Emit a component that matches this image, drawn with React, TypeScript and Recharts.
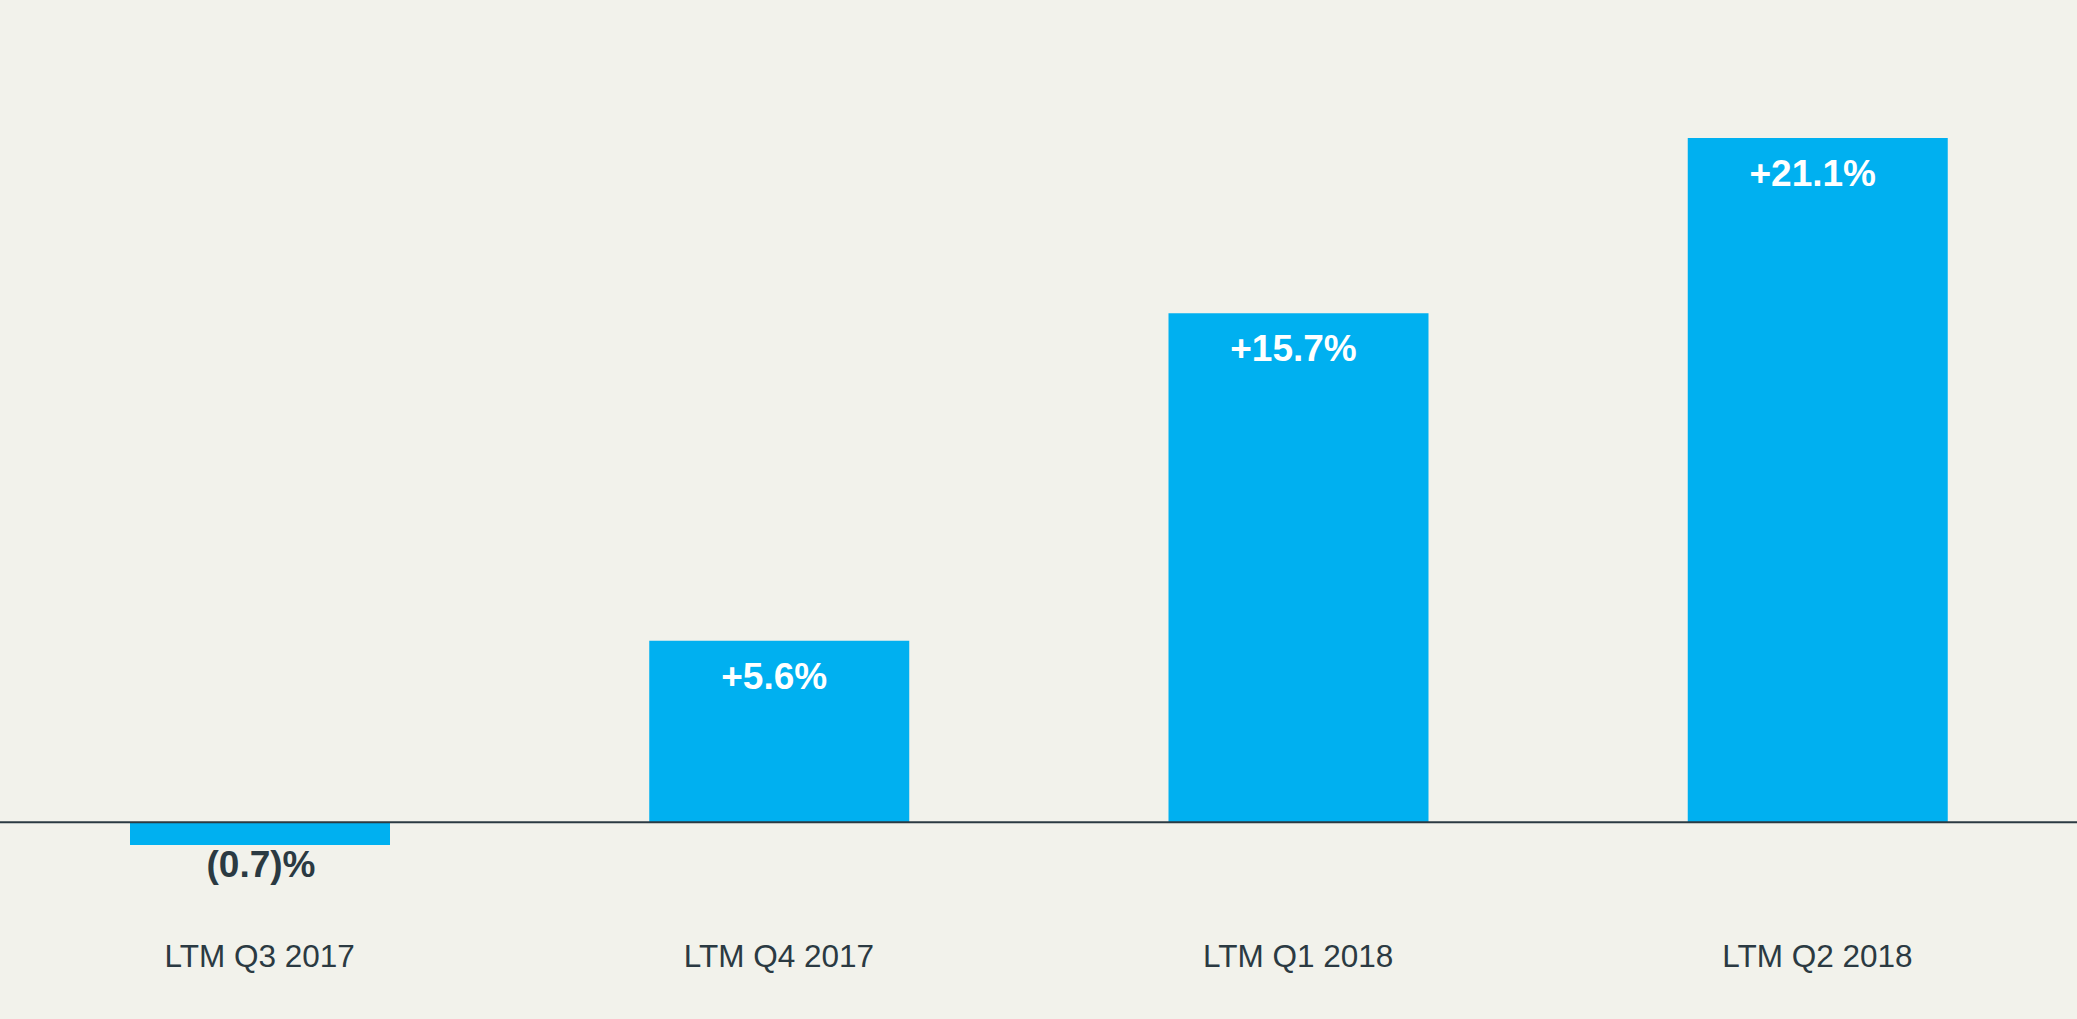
import React from "react";
import {
  BarChart,
  Bar,
  XAxis,
  YAxis,
  ReferenceLine,
  LabelList,
} from "recharts";

const categories = ["LTM Q3 2017", "LTM Q4 2017", "LTM Q1 2018", "LTM Q2 2018"];
const growthValues = [-0.7, 5.6, 15.7, 21.1];
const yDomain = [-4, 24];

const data = categories.map((period, i) => ({ period, growth: growthValues[i] }));

const BG = "#F2F2EB";
const BAR = "#00B0F0";
const DARK = "#2B3A42";
const FONT = "'Liberation Sans', Arial, sans-serif";

// +x.x% for gains, (x.x)% for declines
const formatGrowth = (v: number) =>
  v < 0 ? `(${Math.abs(v).toFixed(1)})%` : `+${v.toFixed(1)}%`;

const GrowthLabel = (props: any) => {
  const { x, y, width, height, value } = props;
  const top = Math.min(y, y + height);
  const bottom = Math.max(y, y + height);
  const cx = x + width / 2;
  const negative = value < 0;
  return (
    <text
      x={negative ? cx + 1 : cx - 5}
      y={negative ? bottom + 32 : top + 48}
      textAnchor="middle"
      fill={negative ? DARK : "#FFFFFF"}
      fontSize={37}
      fontWeight="bold"
      fontFamily={FONT}
    >
      {formatGrowth(value)}
    </text>
  );
};

const PeriodTick = (props: any) => {
  const { x, y, payload } = props;
  return (
    <text
      x={x}
      y={y + 15}
      textAnchor="middle"
      fill={DARK}
      fontSize={31.5}
      fontFamily={FONT}
    >
      {payload.value}
    </text>
  );
};

const App = () => {
  return (
    <div
      style={{
        position: "absolute",
        top: 0,
        left: 0,
        width: 2077,
        height: 1019,
        background: BG,
      }}
    >
      <BarChart
        width={2077}
        height={1019}
        data={data}
        margin={{ top: 44, right: 0, left: 0, bottom: 7 }}
      >
        <XAxis
          dataKey="period"
          axisLine={false}
          tickLine={false}
          tickSize={0}
          tickMargin={0}
          height={60}
          interval={0}
          tick={<PeriodTick />}
        />
        <YAxis hide type="number" domain={yDomain} allowDataOverflow />
        <Bar dataKey="growth" fill={BAR} barSize={260} isAnimationActive={false}>
          <LabelList dataKey="growth" content={<GrowthLabel />} />
        </Bar>
        <ReferenceLine y={0} stroke={DARK} strokeWidth={2} />
      </BarChart>
    </div>
  );
};

export default App;
